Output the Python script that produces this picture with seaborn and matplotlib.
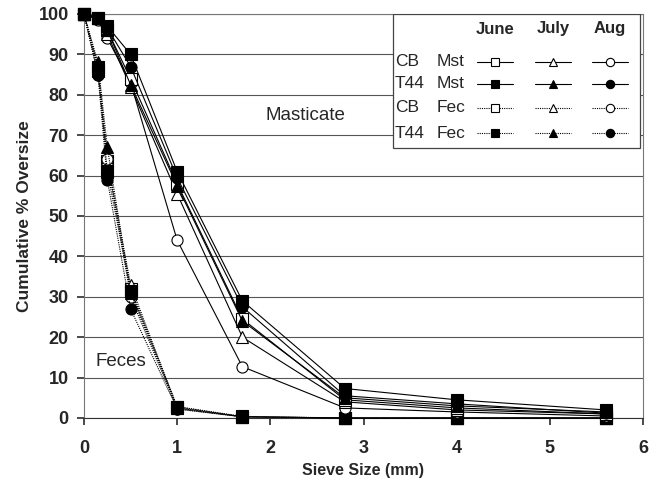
import matplotlib
matplotlib.use("Agg")
import matplotlib.pyplot as plt
import seaborn as sns
import pandas as pd
from matplotlib.lines import Line2D

sns.set_theme(style="white")
plt.rcParams['font.family'] = ['Liberation Sans', 'DejaVu Sans']

sieve = [0, 0.15, 0.25, 0.5, 1.0, 1.7, 2.8, 4.0, 5.6]

# Masticate series
cb_mst_june = [100, 99, 96, 84, 58, 24.5, 4.5, 2.5, 1.0]
cb_mst_july = [100, 99, 95, 82, 55.5, 20, 4, 2, 1.0]
cb_mst_aug = [100, 98.5, 94, 83, 44, 12.7, 2.5, 1.5, 0.5]
t44_mst_june = [100, 99, 97, 90, 61, 29, 7.3, 4.5, 2.0]
t44_mst_july = [100, 99, 96, 82.5, 57.5, 24, 5, 3, 1.5]
t44_mst_aug = [100, 99, 96.5, 87, 59.5, 27.5, 5.5, 3.5, 1.2]

# Feces series
cb_fec_june = [100, 86, 63.5, 32, 2.8, 0.3, 0, 0, 0]
cb_fec_july = [100, 87, 64, 33, 2.5, 0.3, 0, 0, 0]
cb_fec_aug = [100, 85, 64, 30, 2.3, 0.3, 0, 0, 0]
t44_fec_june = [100, 87, 61, 31.5, 2.8, 0.4, 0, 0, 0]
t44_fec_july = [100, 88, 67, 31, 2.5, 0.3, 0, 0, 0]
t44_fec_aug = [100, 85, 59, 27, 2.2, 0.3, 0, 0, 0]

months = ["June", "July", "Aug"]
row_labels = [("CB", "Mst"), ("T44", "Mst"), ("CB", "Fec"), ("T44", "Fec")]
x_ticks = [0, 1, 2, 3, 4, 5, 6]
y_ticks = [0, 10, 20, 30, 40, 50, 60, 70, 80, 90, 100]

markers = {"June": "s", "July": "^", "Aug": "o"}
series = [
    ("CB", "Fec", "June", cb_fec_june), ("CB", "Fec", "July", cb_fec_july), ("CB", "Fec", "Aug", cb_fec_aug),
    ("T44", "Fec", "June", t44_fec_june), ("T44", "Fec", "July", t44_fec_july), ("T44", "Fec", "Aug", t44_fec_aug),
    ("CB", "Mst", "Aug", cb_mst_aug), ("CB", "Mst", "July", cb_mst_july), ("CB", "Mst", "June", cb_mst_june),
    ("T44", "Mst", "July", t44_mst_july), ("T44", "Mst", "Aug", t44_mst_aug), ("T44", "Mst", "June", t44_mst_june),
]

fig = plt.figure(figsize=(6.57, 4.83), dpi=100)
ax = fig.add_axes([84/657, 1-418/483, (643-84)/657, (418-14)/483])

for site, kind, month, vals in series:
    df = pd.DataFrame({"x": sieve, "y": vals})
    filled = site == "T44"
    ls = "-" if kind == "Mst" else (0, (1, 1))
    sns.lineplot(data=df, x="x", y="y", ax=ax, color="black", linewidth=0.8,
                 linestyle=ls, marker=markers[month], markersize=8 if month != "July" else 8.5,
                 markerfacecolor="black" if filled else "white",
                 markeredgecolor="black", markeredgewidth=0.8, sort=False,
                 estimator=None, clip_on=False, zorder=3)

ax.set_xlim(0, 6)
ax.set_ylim(0, 100)
ax.set_xticks(x_ticks)
ax.set_yticks(y_ticks)
ax.set_xticklabels([str(t) for t in x_ticks], fontsize=13, fontweight="bold")
ax.set_yticklabels([str(t) for t in y_ticks], fontsize=13, fontweight="bold")
ax.yaxis.grid(True, color="#555555", linewidth=0.8)
ax.xaxis.grid(False)
ax.set_axisbelow(True)
for s in ax.spines.values():
    s.set_color("#777777")
    s.set_linewidth(0.8)
ax.spines["bottom"].set_color("#333333")
ax.tick_params(axis="both", which="both", length=5, direction="out", color="#333333",
               bottom=True, left=True)
ax.tick_params(axis="x", pad=11)
ax.tick_params(axis="y", pad=6)
ax.set_xlabel("Sieve Size (mm)", fontsize=11.5, fontweight="bold", labelpad=4)
ax.set_ylabel("Cumulative % Oversize", fontsize=12.5, fontweight="bold", labelpad=5)

ax.text(1.95, 75, "Masticate", fontsize=13.5, ha="left", va="center")
ax.text(0.12, 14, "Feces", fontsize=13.5, ha="left", va="center")

# custom table legend
def fx(px):
    return (px - 84) / 559
def fy(py):
    return (418 - py) / 404

box = plt.Rectangle((fx(393), fy(148)), fx(640) - fx(393), fy(14) - fy(148),
                    transform=ax.transAxes, facecolor="white", edgecolor="#444444",
                    linewidth=0.9, zorder=5)
ax.add_patch(box)
col_px = [495, 553, 610]
for m, cx in zip(months, col_px):
    ax.text(fx(cx), fy(29), m, transform=ax.transAxes, ha="center", va="center",
            fontsize=12, fontweight="bold", zorder=6)
row_py = [62, 84, 108, 133]
for (site, kind), ry in zip(row_labels, row_py):
    ax.text(fx(395), fy(ry), site, transform=ax.transAxes, ha="left", va="center", fontsize=12.5, zorder=6)
    ax.text(fx(437), fy(ry), kind, transform=ax.transAxes, ha="left", va="center", fontsize=12.5, zorder=6)
    for m, cx in zip(months, col_px):
        ls = "-" if kind == "Mst" else (0, (1, 1))
        ln = Line2D([fx(cx - 18), fx(cx), fx(cx + 18)], [fy(ry)] * 3, transform=ax.transAxes,
                    color="black", linewidth=0.8, linestyle=ls, marker=markers[m],
                    markevery=[1], markersize=6,
                    markerfacecolor="black" if site == "T44" else "white",
                    markeredgecolor="black", markeredgewidth=0.8, zorder=6)
        ax.add_line(ln)

fig.savefig("out.png", dpi=100)
